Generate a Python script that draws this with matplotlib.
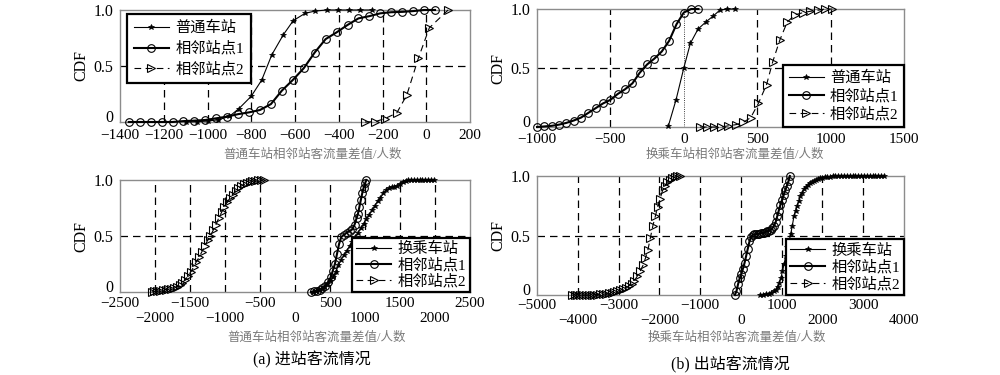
import matplotlib
matplotlib.use('Agg')
import matplotlib.pyplot as plt

plt.rcParams['font.family'] = ['Liberation Serif', 'Noto Sans CJK SC']
plt.rcParams['axes.unicode_minus'] = True

# ---- data ----
# (a) top: ordinary station
p1_station_x = [-1100, -1050, -1000, -950, -900, -856, -800, -752, -706, -653,
                -608, -554, -509, -455, -402, -352, -303, -250]
p1_station_y = [0.0, 0.003, 0.008, 0.02, 0.05, 0.12, 0.23, 0.375, 0.60, 0.78,
                0.905, 0.97, 0.99, 1.0, 1.0, 1.0, 1.0, 1.0]
p1_adj1_x = [-1360, -1310, -1260, -1210, -1160, -1110, -1060, -1010, -960, -910,
             -860, -810, -760, -710, -660, -610, -560, -510, -460, -410,
             -360, -310, -260, -210, -160, -110, -60, -10, 40]
p1_adj1_y = [0.0, 0.0, 0.0, 0.0, 0.0, 0.008, 0.012, 0.018, 0.033, 0.048,
             0.07, 0.086, 0.107, 0.16, 0.28, 0.375, 0.48, 0.62, 0.74, 0.80,
             0.866, 0.925, 0.945, 0.97, 0.98, 0.983, 0.99, 1.0, 1.0]
p1_adj2_x = [-280, -234, -189, -135, -89, -36, 14, 100]
p1_adj2_y = [0.0, 0.003, 0.03, 0.08, 0.24, 0.57, 0.84, 1.0]

# (b) top: ordinary station
p2_station_x = [-105, -53, 0, 45, 97, 150, 200, 245, 296, 349]
p2_station_y = [0.01, 0.23, 0.5, 0.71, 0.83, 0.89, 0.94, 0.99, 1.0, 1.0]
p2_adj1_x = [-1000, -950, -900, -850, -800, -750, -700, -650, -600, -550, -500,
             -450, -400, -350, -300, -250, -200, -150, -100, -50, 0, 50, 100]
p2_adj1_y = [0.0, 0.005, 0.01, 0.02, 0.035, 0.055, 0.08, 0.12, 0.16, 0.20, 0.23,
             0.28, 0.32, 0.37, 0.46, 0.53, 0.58, 0.64, 0.73, 0.87, 0.97, 1.0, 1.0]
p2_adj2_x = [110, 156, 206, 251, 303, 356, 406, 456, 508, 564, 605, 655, 705,
             757, 814, 860, 916, 962, 1012]
p2_adj2_y = [0.0, 0.0, 0.0, 0.0, 0.01, 0.02, 0.04, 0.08, 0.2, 0.36, 0.55, 0.74,
             0.89, 0.95, 0.97, 0.98, 0.99, 1.0, 1.0]

# (a) bottom: transfer station
p3_station_x = [260, 300, 340, 380, 420, 460, 500, 540, 580, 620, 660, 700, 740,
                780, 820, 860, 900, 940, 980, 1020, 1060, 1100, 1140, 1180, 1220,
                1260, 1300, 1340, 1380, 1420, 1460, 1500, 1540, 1580, 1620, 1660,
                1700, 1740, 1780, 1820, 1860, 1900, 1940, 1980]
p3_station_y = [0.0, 0.005, 0.015, 0.03, 0.045, 0.07, 0.1, 0.13, 0.18, 0.24, 0.29,
                0.33, 0.37, 0.41, 0.45, 0.49, 0.53, 0.57, 0.61, 0.655, 0.69, 0.73,
                0.77, 0.81, 0.84, 0.88, 0.91, 0.925, 0.935, 0.94, 0.95, 0.965,
                0.985, 0.995, 1.0, 1.0, 1.0, 1.0, 1.0, 1.0, 1.0, 1.0, 1.0, 1.0]
p3_adj1_x = [230, 270, 310, 350, 390, 430, 470, 510, 540, 570, 600, 630, 660,
             700, 740, 780, 820, 850, 880, 900, 920, 940, 960, 980, 1000, 1020]
p3_adj1_y = [0.0, 0.005, 0.01, 0.02, 0.035, 0.05, 0.085, 0.13, 0.19, 0.25, 0.34,
             0.43, 0.49, 0.51, 0.53, 0.545, 0.56, 0.6, 0.66, 0.7, 0.76, 0.82,
             0.88, 0.93, 0.97, 1.0]
p3_adj2_x = [-2050, -2010, -1970, -1930, -1890, -1850, -1810, -1770, -1730, -1690,
             -1650, -1610, -1570, -1530, -1490, -1450, -1410, -1370, -1330, -1290,
             -1250, -1210, -1170, -1130, -1090, -1050, -1010, -970, -930, -890,
             -850, -810, -770, -730, -690, -650, -610, -570, -530, -490, -450]
p3_adj2_y = [0.0, 0.005, 0.008, 0.01, 0.015, 0.02, 0.025, 0.03, 0.035, 0.045,
             0.06, 0.08, 0.11, 0.14, 0.18, 0.22, 0.27, 0.31, 0.36, 0.41,
             0.46, 0.50, 0.55, 0.60, 0.66, 0.71, 0.76, 0.80, 0.84, 0.87,
             0.90, 0.925, 0.945, 0.96, 0.97, 0.98, 0.99, 0.995, 1.0, 1.0, 1.0]

# (b) bottom: transfer station
p4_station_x = [470, 540, 610, 680, 740, 800, 850, 900, 940, 980, 1020, 1060, 1100,
                1140, 1180, 1220, 1260, 1300, 1340, 1380, 1420, 1460, 1500, 1550,
                1600, 1650, 1700, 1750, 1800, 1850, 1900, 1950, 2000, 2060, 2120,
                2180, 2250, 2320, 2390, 2460, 2530, 2600, 2670, 2740, 2810, 2880,
                2950, 3020, 3090, 3160, 3230, 3300, 3370, 3440, 3520]
p4_station_y = [0.0, 0.003, 0.007, 0.012, 0.02, 0.03, 0.045, 0.07, 0.1, 0.14, 0.2,
                0.26, 0.33, 0.4, 0.45, 0.51, 0.58, 0.66, 0.71, 0.75, 0.79, 0.83,
                0.86, 0.89, 0.91, 0.925, 0.94, 0.95, 0.96, 0.965, 0.975, 0.98,
                0.985, 0.99, 0.993, 0.995, 0.997, 1.0, 1.0, 1.0, 1.0, 1.0, 1.0,
                1.0, 1.0, 1.0, 1.0, 1.0, 1.0, 1.0, 1.0, 1.0, 1.0, 1.0, 1.0]
p4_adj1_x = [-150, -110, -70, -30, 10, 50, 90, 130, 170, 210, 250, 290, 330, 370,
             410, 450, 490, 530, 570, 610, 650, 690, 730, 770, 810, 850, 890, 930,
             970, 1010, 1050, 1090, 1130, 1170, 1200]
p4_adj1_y = [0.0, 0.03, 0.09, 0.14, 0.18, 0.22, 0.27, 0.33, 0.39, 0.45, 0.49,
             0.505, 0.51, 0.51, 0.515, 0.515, 0.52, 0.52, 0.525, 0.53, 0.535,
             0.54, 0.55, 0.56, 0.58, 0.61, 0.66, 0.71, 0.76, 0.80, 0.84, 0.88,
             0.92, 0.96, 1.0]
p4_adj2_x = [-4150, -4080, -4010, -3940, -3870, -3800, -3730, -3660, -3590, -3520,
             -3450, -3380, -3310, -3240, -3170, -3100, -3030, -2960, -2890, -2820,
             -2750, -2680, -2610, -2540, -2470, -2400, -2340, -2280, -2220, -2160,
             -2100, -2040, -1980, -1920, -1860, -1800, -1740, -1680, -1620, -1560,
             -1500]
p4_adj2_y = [0.0, 0.0, 0.0, 0.0, 0.0, 0.0, 0.0, 0.0, 0.002, 0.004, 0.006, 0.008,
             0.01, 0.013, 0.017, 0.022, 0.03, 0.04, 0.05, 0.06, 0.075, 0.095,
             0.12, 0.16, 0.2, 0.25, 0.31, 0.38, 0.48, 0.58, 0.66, 0.74, 0.81,
             0.88, 0.92, 0.95, 0.97, 0.98, 0.99, 1.0, 1.0]

ticks1 = [-1400, -1200, -1000, -800, -600, -400, -200, 0, 200]
ticks2 = [-1000, -500, 0, 500, 1000, 1500]
# bottom panels: labels are staggered on two rows
ticks3_top = [-2500, -1500, -500, 500, 1500, 2500]
ticks3_low = [-2000, -1000, 0, 1000, 2000]
ticks4_top = [-5000, -3000, -1000, 1000, 3000]
ticks4_low = [-4000, -2000, 0, 2000, 4000]

xlab_normal = '普通车站相邻站客流量差值/人数'
xlab_transfer = '换乘车站相邻站客流量差值/人数'


def fmt(v):
    return str(v).replace('-', '\u2212')


def draw(ax, sx, sy, ax1, ay1, ax2, ay2, station_name):
    ax.plot(sx, sy, color='k', lw=0.8, marker='*', ms=4, mew=0.5,
            label=station_name, clip_on=False, zorder=3)
    ax.plot(ax1, ay1, color='k', lw=1.5, marker='o', ms=5.5, mfc='none',
            mew=0.8, label='相邻站点1', clip_on=False, zorder=3)
    ax.plot(ax2, ay2, color='k', lw=0.8, ls=(0, (6, 4)), marker='>', ms=6,
            mfc='none', mew=0.8, label='相邻站点2', clip_on=False, zorder=3)


def style(ax, xlim, ticks, gridx, xlabel, xpad, label_xy, low_ticks=None):
    ax.set_xlim(*xlim)
    ax.set_ylim(0, 1)
    ax.set_xticks(ticks, [fmt(t) for t in ticks])
    if low_ticks is not None:
        ax.set_xticks(low_ticks, [fmt(t) for t in low_ticks], minor=True)
        ax.tick_params(axis='x', which='minor', length=0, labelsize=11,
                       pad=xpad + 11)
    ax.set_yticks([0, 0.5, 1.0], ['0', '0.5', '1.0'])
    ax.get_yticklabels()[0].set_va('baseline')
    ax.tick_params(axis='x', which='major', length=0, labelsize=11, pad=xpad)
    ax.tick_params(axis='y', length=0, labelsize=11.5, pad=5)
    for sp in ax.spines.values():
        sp.set_color('#8c8c8c')
        sp.set_linewidth(1.0)
    for g in gridx:
        ax.axvline(g, color='k', lw=0.9, ls=(0, (6, 4)), zorder=1)
    ax.axhline(0.5, color='k', lw=0.9, ls=(0, (6, 4)), zorder=1)
    ax.set_ylabel('CDF', fontsize=11.5, labelpad=3)
    ax.set_xlabel(xlabel, fontsize=9, color='#7a7a7a')
    ax.xaxis.set_label_coords(*label_xy)


def legend(ax, **kw):
    leg = ax.legend(frameon=True, fancybox=False, edgecolor='k', framealpha=1,
                    fontsize=11, handlelength=2.3, handletextpad=0.4, **kw)
    leg.get_frame().set_linewidth(1.6)
    leg.set_zorder(5)


fig = plt.figure(figsize=(10, 3.75), dpi=100)
axA1 = fig.add_axes([0.120, 0.6747, 0.350, 0.2987])
axB1 = fig.add_axes([0.537, 0.6613, 0.367, 0.3147])
axA2 = fig.add_axes([0.120, 0.2213, 0.350, 0.2987])
axB2 = fig.add_axes([0.537, 0.2133, 0.367, 0.3173])

# (a) top
draw(axA1, p1_station_x, p1_station_y, p1_adj1_x, p1_adj1_y, p1_adj2_x, p1_adj2_y, '普通车站')
style(axA1, (-1400, 200), ticks1, ticks1[1:-1], xlab_normal, 5, (0.549, -0.24))
legend(axA1, loc='upper left', bbox_to_anchor=(0.02, 0.965), borderaxespad=0,
       labelspacing=0.4, borderpad=0.45)

# (b) top
draw(axB1, p2_station_x, p2_station_y, p2_adj1_x, p2_adj1_y, p2_adj2_x, p2_adj2_y, '普通车站')
style(axB1, (-1000, 1500), ticks2, [-500, 500, 1000], xlab_transfer, 4, (0.54, -0.186))
axB1.axvline(0, color='k', lw=0.6, ls=':', zorder=1)
legend(axB1, loc='lower right', bbox_to_anchor=(1, 0), borderaxespad=0,
       labelspacing=0.25, borderpad=0.35)

# (a) bottom
draw(axA2, p3_station_x, p3_station_y, p3_adj1_x, p3_adj1_y, p3_adj2_x, p3_adj2_y, '换乘车站')
grid3 = sorted(ticks3_top[1:-1] + ticks3_low)
style(axA2, (-2500, 2500), ticks3_top, grid3, xlab_normal, 3.5, (0.563, -0.35),
      low_ticks=ticks3_low)
legend(axA2, loc='lower right', bbox_to_anchor=(1, 0), borderaxespad=0,
       labelspacing=0.1, borderpad=0.25)

# (b) bottom
draw(axB2, p4_station_x, p4_station_y, p4_adj1_x, p4_adj1_y, p4_adj2_x, p4_adj2_y, '换乘车站')
grid4 = sorted(ticks4_top[1:] + ticks4_low[:-1])
style(axB2, (-5000, 4000), ticks4_top, grid4, xlab_transfer, 3, (0.545, -0.305),
      low_ticks=ticks4_low)
legend(axB2, loc='lower right', bbox_to_anchor=(1, 0), borderaxespad=0,
       labelspacing=0.15, borderpad=0.25)

fig.text(0.312, 1 - 360 / 375, '(a) 进站客流情况', fontsize=11.5, ha='center', va='center')
fig.text(0.730, 1 - 365 / 375, '(b) 出站客流情况', fontsize=11.5, ha='center', va='center')

fig.savefig('out.png', dpi=100)
